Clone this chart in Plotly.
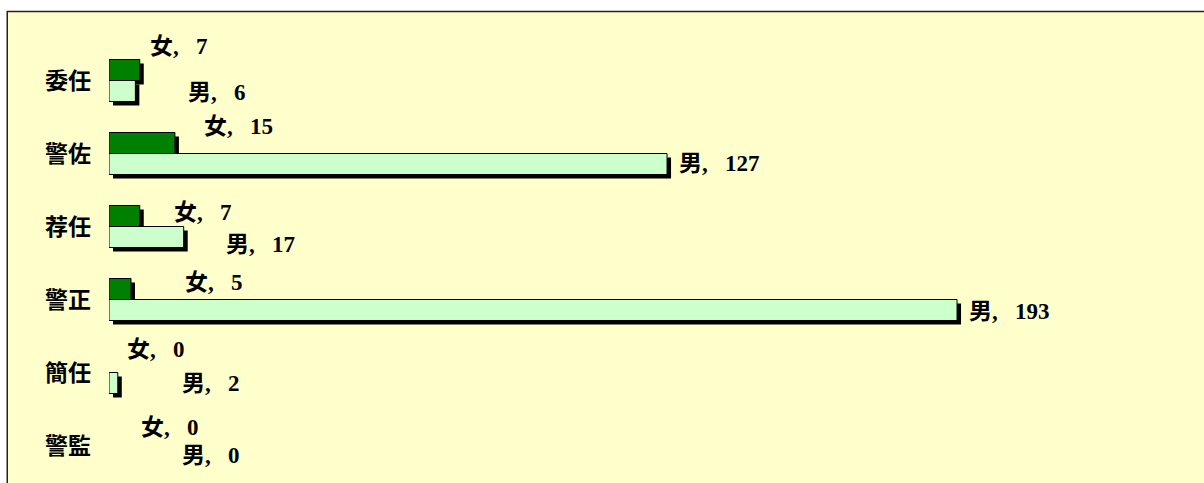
import plotly.graph_objects as go

# ---- data ----
categories = ["委任", "警佐", "荐任", "警正", "簡任", "警監"]
female = [7, 15, 7, 5, 0, 0]
male = [6, 127, 17, 193, 2, 0]
female_name = "女"
male_name = "男"

# ---- label placement (pixel offsets from bar end / category centre) ----
female_dx = [8, 27, 32, 52, 16, 30]
female_dy = [34, 27, 14.5, 17, 23, 18]
male_dx = [51, 10, 40, 10, 62, 71]
male_dy = [-12, -10, -17.5, -12, -11, -10]

# ---- layout geometry ----
W_PAGE, H_PAGE = 1204, 483
ML, MR, MT, MB = 109, 10, 44, 0
W = W_PAGE - ML - MR
H = H_PAGE - MT - MB
SH = 4  # shadow offset px
px_per_unit = 4.394
xmax = (W - SH) / px_per_unit
band = 73.0
ncat_visible = (H - SH) / band
yrange = [-0.5 + ncat_visible, -0.5]

DARK = "#008000"
LIGHT = "#CCFFCC"
BG = "#FFFFCC"


def widths(vals, w):
    return [w if v > 0 else 0 for v in vals]


fig = go.Figure()

# shadows (lower layer subplot, shifted right/down)
for vals, og in ((female, "f"), (male, "m")):
    fig.add_trace(go.Bar(
        y=categories, x=vals, orientation="h", xaxis="x", yaxis="y",
        marker=dict(color="black", line=dict(width=0)),
        offsetgroup=og, hoverinfo="skip", showlegend=False))

fig.add_trace(go.Bar(
    y=categories, x=female, orientation="h", xaxis="x2", yaxis="y2",
    name=female_name,
    marker=dict(color=DARK, line=dict(color="black", width=widths(female, 1))),
    offsetgroup="f", hoverinfo="skip", showlegend=False))
fig.add_trace(go.Bar(
    y=categories, x=male, orientation="h", xaxis="x2", yaxis="y2",
    name=male_name,
    marker=dict(color=LIGHT, line=dict(color="black", width=widths(male, 1))),
    offsetgroup="m", hoverinfo="skip", showlegend=False))

label_font = dict(family='"Liberation Serif", "Noto Sans CJK TC", serif',
                  size=23, color="black", weight="bold")
SEP = ", \u2002"
annotations = []
for i, c in enumerate(categories):
    annotations.append(dict(
        x=female[i], y=c, xref="x2", yref="y2",
        text=f"{female_name}{SEP}{female[i]}", showarrow=False,
        xanchor="left", yanchor="middle",
        xshift=female_dx[i], yshift=female_dy[i], font=label_font))
    annotations.append(dict(
        x=male[i], y=c, xref="x2", yref="y2",
        text=f"{male_name}{SEP}{male[i]}", showarrow=False,
        xanchor="left", yanchor="middle",
        xshift=male_dx[i], yshift=male_dy[i], font=label_font))

dx = SH / W
dy = SH / H
fig.update_layout(
    width=W_PAGE, height=H_PAGE,
    margin=dict(l=ML, r=MR, t=MT, b=MB, pad=0),
    paper_bgcolor="white", plot_bgcolor="rgba(0,0,0,0)",
    barmode="group", bargap=0.425, bargroupgap=0,
    showlegend=False,
    xaxis=dict(domain=[dx, 1], range=[0, xmax], visible=False, fixedrange=True),
    yaxis=dict(domain=[0, 1 - dy], range=yrange, type="category",
               visible=False, fixedrange=True),
    xaxis2=dict(domain=[0, 1 - dx], range=[0, xmax], anchor="y2", visible=False,
                fixedrange=True),
    yaxis2=dict(domain=[dy, 1], range=yrange, type="category", anchor="x2",
                showgrid=False, zeroline=False, showline=False, ticks="",
                ticklabelstandoff=17,
                tickfont=dict(family='"Noto Sans CJK TC", sans-serif', size=23,
                              color="black", weight="bold"),
                fixedrange=True),
    annotations=annotations,
    shapes=[dict(type="rect", xref="paper", yref="paper", layer="below",
                 x0=(7.25 - ML) / W, x1=1 + (MR + 20) / W,
                 y0=-0.05, y1=1 + (MT - 11.5) / H,
                 fillcolor=BG, line=dict(color="#222222", width=1.5))],
)

fig.write_html(
    "out.html",
    config={"displayModeBar": False},
    post_script="document.body.style.margin='0';document.body.style.overflow='hidden';",
)
